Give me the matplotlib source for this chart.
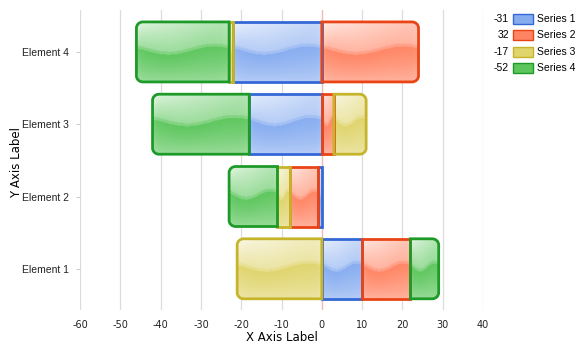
import numpy as np
import matplotlib as mpl
mpl.use('Agg')
from matplotlib import pyplot as plt
from matplotlib.path import Path
from matplotlib.patches import PathPatch, Rectangle
from matplotlib.colors import to_rgb

plt.rcParams['axes.unicode_minus'] = False

## data
elements = ['Element 1', 'Element 2', 'Element 3', 'Element 4']
series_names = ['Series 1', 'Series 2', 'Series 3', 'Series 4']
series1 = [10, -1, -18, -22]
series2 = [12, -7, 3, 24]
series3 = [-21, -3, 8, -1]
series4 = [7, -12, -24, -23]

## styles
fills = ['#86acf0', '#ff8463', '#e0d46c', '#5cc65c']
edges = ['#3468d6', '#ea4416', '#c6b42a', '#1d9a28']


def seg_path(x0, x1, yc, h, rl, rr, rx, ry):
    k = 0.5523
    y0, y1 = yc - h/2, yc + h/2
    rx = min(rx, (x1 - x0)/2)
    V = []
    C = []
    V.append((x0 + rx, y0) if rl else (x0, y0)); C.append(Path.MOVETO)
    if rr:
        V += [(x1 - rx, y0), (x1 - rx + k*rx, y0), (x1, y0 + ry - k*ry), (x1, y0 + ry),
              (x1, y1 - ry), (x1, y1 - ry + k*ry), (x1 - rx + k*rx, y1), (x1 - rx, y1)]
        C += [Path.LINETO] + [Path.CURVE4]*3 + [Path.LINETO] + [Path.CURVE4]*3
    else:
        V += [(x1, y0), (x1, y1)]
        C += [Path.LINETO, Path.LINETO]
    if rl:
        V += [(x0 + rx, y1), (x0 + rx - k*rx, y1), (x0, y1 - ry + k*ry), (x0, y1 - ry),
              (x0, y0 + ry), (x0, y0 + ry - k*ry), (x0 + rx - k*rx, y0), (x0 + rx, y0)]
        C += [Path.LINETO] + [Path.CURVE4]*3 + [Path.LINETO] + [Path.CURVE4]*3
    else:
        V += [(x0, y1), (x0, y0)]
        C += [Path.LINETO, Path.LINETO]
    V.append(V[0]); C.append(Path.CLOSEPOLY)
    return Path(V, C)


def gloss(color, n=80):
    # glossy fill: light top with highlight at the left, wavy edge, lighter bottom
    base = np.array(to_rgb(color))
    u = np.linspace(0, 1, n)[None, :]
    t = np.linspace(0, 1, n)[:, None]   # 0 = top
    b = 0.45 + 0.07*np.sin(2*np.pi*(u - 0.1))
    top = 0.38 + 0.42*np.clip(1 - t/b, 0, 1)*(1 - 0.7*u)
    bottom = 0.02 + 0.35*np.clip((t - b)/(1 - b), 0, 1)**1.3
    w = np.where(t < b, top, bottom)
    w = np.where(np.abs(t - b) < 0.025, 0.24, w)
    # faint inner glow close to the sides
    w = w + 0.1*np.exp(-np.minimum(u, 1 - u)/0.04)
    w = np.clip(w, 0, 0.95)
    img = base[None, None, :]*(1 - w[..., None]) + w[..., None]
    return img


def main():
    data = [series1, series2, series3, series4]
    h = 0.83
    fig = plt.figure(figsize=(5.85, 3.53), dpi=100)
    ax = fig.add_axes([80/585, 1 - 310/353, 403/585, 300/353])

    for yi in range(len(elements)):
        vals = [s[yi] for s in data]
        pos_idx = [i for i, v in enumerate(vals) if v > 0]
        neg_idx = [i for i, v in enumerate(vals) if v < 0]
        pos, neg = 0, 0
        for i, v in enumerate(vals):
            if v == 0:
                continue
            if v > 0:
                x0, x1 = pos, pos + v
                pos += v
                rl, rr = False, i == pos_idx[-1]
            else:
                x0, x1 = neg + v, neg
                neg += v
                rl, rr = i == neg_idx[-1], False
            p = seg_path(x0, x1, yi, h, rl, rr, 1.6, 0.085)
            patch = PathPatch(p, facecolor='none', edgecolor=edges[i], lw=2.0, zorder=4)
            ax.add_patch(patch)
            im = ax.imshow(gloss(fills[i]), extent=[x0, x1, yi - h/2, yi + h/2],
                           aspect='auto', origin='upper', zorder=3, interpolation='bilinear')
            im.set_clip_path(patch)

    ax.axvline(0, color='#f4b8b8', lw=0.9, zorder=1)
    ax.set_xlim(-60, 40)
    ax.set_ylim(-0.57, 3.58)
    ax.set_xticks(np.arange(-60, 41, 10))
    ax.set_yticks(range(len(elements)))
    ax.set_yticklabels(elements)
    ax.grid(axis='x', color='#dcdcdc', lw=0.9, zorder=0)
    ax.set_axisbelow(True)
    for s in ax.spines.values():
        s.set_visible(False)
    ax.tick_params(axis='x', length=0, labelsize=7, colors='#222222', pad=7)
    ax.tick_params(axis='y', length=3, width=0.8, color='#cccccc', labelsize=7.5,
                   labelcolor='#222222', pad=5)
    for lab in ax.get_yticklabels():
        lab.set_family('Liberation Sans')
    ax.set_xlabel('X Axis Label', fontsize=8.5, labelpad=1)
    ax.set_ylabel('Y Axis Label', fontsize=8.5)
    ax.yaxis.set_label_coords(-57/403, 0.49)

    ## legend with series totals
    for i, name in enumerate(series_names):
        yc = 1 - (19 + i*16.4)/353
        total = sum(data[i])
        fig.text(509/585, yc, str(total), ha='right', va='center', fontsize=7.5,
                 family='Liberation Sans')
        fig.patches.append(Rectangle((513/585, yc - 5/353), 20/585, 10/353,
                                     transform=fig.transFigure, facecolor=fills[i],
                                     edgecolor=edges[i], lw=1.0))
        fig.text(537/585, yc, name, ha='left', va='center', fontsize=7.5,
                 family='Liberation Sans')

    fig.savefig('out.png', dpi=100)


if __name__ == '__main__':
    main()
